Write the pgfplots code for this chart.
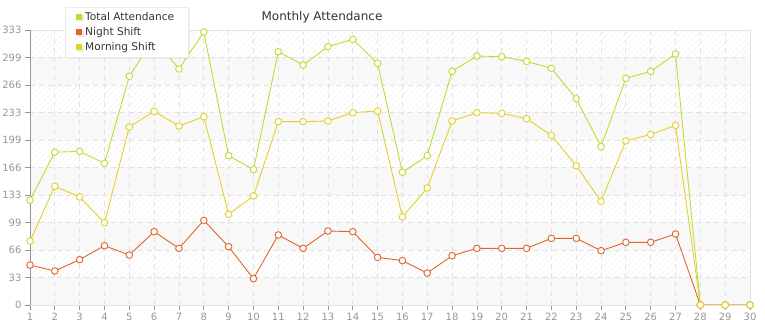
\documentclass[border=0pt]{standalone}
\usepackage{pgfplots}
\pgfplotsset{compat=1.18}
\usepackage{fontspec}
\setmainfont{DejaVu Sans}
\usetikzlibrary{patterns.meta,shadows}
\definecolor{tot}{RGB}{190,220,50}
\definecolor{night}{RGB}{225,100,45}
\definecolor{morn}{RGB}{226,210,40}
\definecolor{band}{RGB}{248,248,248}
\definecolor{gridc}{RGB}{226,226,226}
\definecolor{tickc}{RGB}{150,150,150}
\begin{document}
\begin{tikzpicture}
\begin{axis}[
  set layers,
  scale only axis, width=720pt, height=275pt,
  xmin=1, xmax=30, ymin=0, ymax=333,
  xtick={1,...,30},
  ytick={0,33.3,66.6,99.9,133.2,166.5,199.8,233.1,266.4,299.7,333},
  yticklabels={0,33,66,99,133,166,199,233,266,299,333},
  xtick pos=bottom, ytick pos=left,
  tick align=outside, major tick length=5pt,
  tick style={draw=tickc, line width=0.8pt},
  ticklabel style={font=\fontsize{10}{12}\selectfont, text=tickc},
  /pgf/number format/assume math mode=true,
  axis line style={draw=gridc, line width=0.8pt},
  grid=major,
  major grid style={draw=gridc, line width=0.8pt, dash pattern=on 5pt off 4pt},
  axis background/.style={pattern={Lines[angle=45,distance=4pt,line width=0.5pt]}, pattern color=black!8},
  legend style={at={(axis description cs:0.0486,1.0836)}, anchor=north west,
    draw=black!8, fill=white, font=\fontsize{10.6}{12.4}\selectfont, text=black!80,
    drop shadow={shadow xshift=1.5pt, shadow yshift=-1.5pt, opacity=0.12},
    inner xsep=4pt, inner ysep=3pt, row sep=1.6pt},
  legend cell align=left,
]
\begin{pgfonlayer}{axis background}
\fill[band] (axis cs:1,0) rectangle (axis cs:30,33.3);
\fill[band] (axis cs:1,66.6) rectangle (axis cs:30,99.9);
\fill[band] (axis cs:1,133.2) rectangle (axis cs:30,166.5);
\fill[band] (axis cs:1,199.8) rectangle (axis cs:30,233.1);
\fill[band] (axis cs:1,266.4) rectangle (axis cs:30,299.7);
\end{pgfonlayer}
\addplot[color=tot, line width=0.9pt, mark=*, mark size=3.3pt, mark options={fill=white, line width=0.9pt},
  legend image code/.code={\path[draw=none] (0pt,0pt) rectangle (14pt,0pt); \fill[tot, draw=none] (7pt,-3pt) rectangle (13pt,3pt);}] coordinates {
(1,127)(2,185)(3,186)(4,171.5)(5,277)(6,323)(7,285.8)(8,330.6)(9,180.8)(10,163.9)
(11,306.7)(12,290.6)(13,312.8)(14,321.7)(15,292.6)(16,160.6)(17,180.8)(18,282.9)(19,301.5)(20,300.7)
(21,295)(22,286.6)(23,249.8)(24,191.7)(25,274.5)(26,282.9)(27,304)(28,0)(29,0)(30,0)};
\addlegendentry{\hbox{Total Attendance\kern 8pt}}
\addplot[color=night, line width=0.9pt, mark=*, mark size=3.3pt, mark options={fill=white, line width=0.9pt},
  legend image code/.code={\path[draw=none] (0pt,0pt) rectangle (14pt,0pt); \fill[night, draw=none] (7pt,-3pt) rectangle (13pt,3pt);}] coordinates {
(1,48.4)(2,41.2)(3,54.9)(4,71.8)(5,60.5)(6,88.8)(7,68.6)(8,102.5)(9,70.6)(10,31.9)
(11,84.8)(12,68.6)(13,89.6)(14,88.8)(15,57.7)(16,53.7)(17,38.7)(18,59.7)(19,68.6)(20,68.6)
(21,68.6)(22,80.7)(23,80.7)(24,65.8)(25,75.9)(26,75.9)(27,86)(28,0)(29,0)(30,0)};
\addlegendentry{Night Shift}
\addplot[color=morn, line width=0.9pt, mark=*, mark size=3.3pt, mark options={fill=white, line width=0.9pt},
  legend image code/.code={\path[draw=none] (0pt,0pt) rectangle (14pt,0pt); \fill[morn, draw=none] (7pt,-3pt) rectangle (13pt,3pt);}] coordinates {
(1,77.5)(2,143.7)(3,130.8)(4,99.7)(5,215.5)(6,234.5)(7,216.7)(8,228.1)(9,109.8)(10,132)
(11,222)(12,222)(13,222.8)(14,232.9)(15,234.9)(16,106.6)(17,141.7)(18,222.8)(19,232.9)(20,232.1)
(21,225.6)(22,205.4)(23,168.7)(24,125.5)(25,198.6)(26,206.6)(27,217.5)(28,0)(29,0)(30,0)};
\addlegendentry{Morning Shift}
\draw[tickc, line width=0.8pt] (rel axis cs:0,0) -- (rel axis cs:0,1);
\draw[tickc, line width=0.8pt] (rel axis cs:0,0) -- (rel axis cs:1,0);
\end{axis}
\node[font=\fontsize{12}{14}\selectfont, text=black!80] at (292pt,288pt) {Monthly Attendance};
\pgfresetboundingbox
\path[use as bounding box] (-30pt,-15pt) rectangle (735pt,305pt);
\end{tikzpicture}
\end{document}
